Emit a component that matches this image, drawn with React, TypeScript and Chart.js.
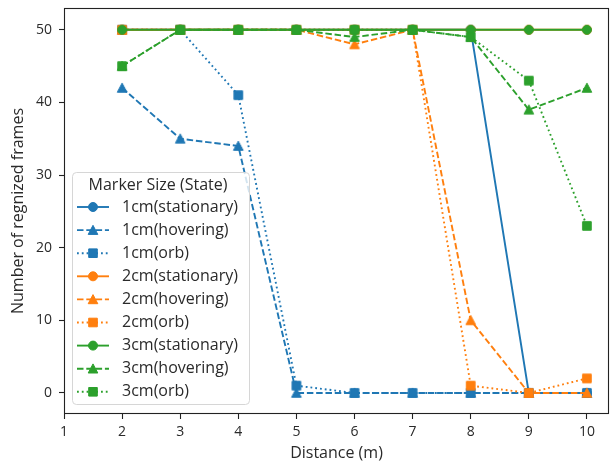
import React, { useEffect, useRef } from 'react';
import { Chart, registerables } from 'chart.js';

Chart.register(...registerables);

const distances = [2, 3, 4, 5, 6, 7, 8, 9, 10];
const xTicks = [1, 2, 3, 4, 5, 6, 7, 8, 9, 10];
const yTicks = [0, 10, 20, 30, 40, 50];

const s1cmStationary = [50, 50, 50, 50, 50, 50, 50, 0, 0];
const s1cmHovering = [42, 35, 34, 0, 0, 0, 0, 0, 0];
const s1cmOrb = [50, 50, 41, 1, 0, 0, 0, 0, 0];
const s2cmStationary = [50, 50, 50, 50, 50, 50, 50, 50, 50];
const s2cmHovering = [50, 50, 50, 50, 48, 50, 10, 0, 0];
const s2cmOrb = [50, 50, 50, 50, 50, 50, 1, 0, 2];
const s3cmStationary = [50, 50, 50, 50, 50, 50, 50, 50, 50];
const s3cmHovering = [45, 50, 50, 50, 49, 50, 49, 39, 42];
const s3cmOrb = [45, 50, 50, 50, 50, 50, 49, 43, 23];

const seriesLabels = [
  '1cm(stationary)', '1cm(hovering)', '1cm(orb)',
  '2cm(stationary)', '2cm(hovering)', '2cm(orb)',
  '3cm(stationary)', '3cm(hovering)', '3cm(orb)',
];
const seriesValues = [
  s1cmStationary, s1cmHovering, s1cmOrb,
  s2cmStationary, s2cmHovering, s2cmOrb,
  s3cmStationary, s3cmHovering, s3cmOrb,
];
const sizeColors = ['#1f77b4', '#ff7f0e', '#2ca02c'];
const stateShapes = ['circle', 'triangle', 'rect'];
const stateDashes: number[][] = [[], [6.5, 2.8], [1.8, 3]];

const legendTitle = 'Marker Size (State)';
const xTitle = 'Distance (m)';
const yTitle = 'Number of regnized frames';

const FONT = '"Open Sans", "Noto Sans", sans-serif';
const TEXT = '#2a2a2a';

function drawShape(ctx: CanvasRenderingContext2D, shape: string, x: number, y: number, color: string) {
  ctx.save();
  ctx.setLineDash([]);
  ctx.fillStyle = color;
  ctx.strokeStyle = color;
  ctx.lineWidth = 1;
  ctx.beginPath();
  if (shape === 'circle') {
    ctx.arc(x, y, 4.5, 0, Math.PI * 2);
  } else if (shape === 'rect') {
    ctx.rect(x - 4.3, y - 4.3, 8.6, 8.6);
  } else {
    ctx.moveTo(x, y - 4.8);
    ctx.lineTo(x + 4.8, y + 4.3);
    ctx.lineTo(x - 4.8, y + 4.3);
    ctx.closePath();
  }
  ctx.fill();
  ctx.stroke();
  ctx.restore();
}

function makeMarker(shape: string, color: string): HTMLCanvasElement {
  const c = document.createElement('canvas');
  c.width = 14;
  c.height = 14;
  const ctx = c.getContext('2d')!;
  drawShape(ctx, shape, 7, 7, color);
  return c;
}

const framePlugin = {
  id: 'frameAndLegend',
  afterDatasetsDraw(chart: any) {
    const ctx: CanvasRenderingContext2D = chart.ctx;
    const a = chart.chartArea;
    ctx.save();
    ctx.strokeStyle = '#222';
    ctx.lineWidth = 1.1;
    ctx.setLineDash([]);
    ctx.strokeRect(Math.round(a.left) + 0.5, Math.round(a.top) + 0.5, Math.round(a.right - a.left) - 1, Math.round(a.bottom - a.top) - 1);

    // legend box
    const bx = 72.5, by = 172.5, bw = 177, bh = 232, r = 4;
    ctx.beginPath();
    ctx.moveTo(bx + r, by);
    ctx.lineTo(bx + bw - r, by);
    ctx.quadraticCurveTo(bx + bw, by, bx + bw, by + r);
    ctx.lineTo(bx + bw, by + bh - r);
    ctx.quadraticCurveTo(bx + bw, by + bh, bx + bw - r, by + bh);
    ctx.lineTo(bx + r, by + bh);
    ctx.quadraticCurveTo(bx, by + bh, bx, by + bh - r);
    ctx.lineTo(bx, by + r);
    ctx.quadraticCurveTo(bx, by, bx + r, by);
    ctx.closePath();
    ctx.fillStyle = 'rgba(255,255,255,0.8)';
    ctx.fill();
    ctx.strokeStyle = '#d6d6d6';
    ctx.lineWidth = 1;
    ctx.stroke();

    ctx.fillStyle = TEXT;
    ctx.font = '16px ' + FONT;
    ctx.textBaseline = 'middle';
    ctx.textAlign = 'center';
    ctx.fillText(legendTitle, bx + bw / 2 - 3, 185);

    ctx.textAlign = 'left';
    seriesLabels.forEach((label, i) => {
      const y = 207 + i * 23.1;
      const color = sizeColors[Math.floor(i / 3)];
      const st = i % 3;
      ctx.save();
      ctx.strokeStyle = color;
      ctx.lineWidth = 1.9;
      ctx.setLineDash(stateDashes[st]);
      ctx.beginPath();
      ctx.moveTo(77, y);
      ctx.lineTo(109, y);
      ctx.stroke();
      ctx.restore();
      drawShape(ctx, stateShapes[st], 93, y, color);
      ctx.fillStyle = TEXT;
      ctx.fillText(label, 122, y);
    });
    ctx.restore();
  },
};

export default function App() {
  const ref = useRef<HTMLCanvasElement | null>(null);

  useEffect(() => {
    if (!ref.current) return;
    const datasets = seriesValues.map((vals, i) => {
      const color = sizeColors[Math.floor(i / 3)];
      const st = i % 3;
      return {
        label: seriesLabels[i],
        data: distances.map((d, j) => ({ x: d, y: vals[j] })),
        borderColor: color,
        backgroundColor: color,
        borderWidth: 1.9,
        borderDash: stateDashes[st],
        pointStyle: makeMarker(stateShapes[st], color),
        pointRadius: 5,
        pointHoverRadius: 5,
        tension: 0,
        fill: false,
        order: seriesValues.length - i,
      };
    });

    const chart = new Chart(ref.current, {
      type: 'line',
      data: { datasets } as any,
      plugins: [framePlugin],
      options: {
        animation: false,
        responsive: false,
        maintainAspectRatio: false,
        devicePixelRatio: 1,
        layout: { autoPadding: false, padding: { left: 0, right: 3, top: 8, bottom: 0 } },
        plugins: {
          legend: { display: false },
          tooltip: { enabled: false },
          title: { display: false },
        },
        scales: {
          x: {
            type: 'linear',
            min: 1,
            max: 10.38,
            afterBuildTicks: (s: any) => { s.ticks = xTicks.map((v) => ({ value: v })); },
            afterFit: (s: any) => { s.height = 49; s.paddingLeft = 0; s.paddingRight = 0; },
            grid: { drawOnChartArea: false, drawTicks: true, tickLength: 5, tickColor: '#222', tickWidth: 1.1 },
            border: { display: false },
            ticks: { color: TEXT, font: { family: FONT, size: 14 }, padding: 5, maxRotation: 0, autoSkip: false },
            title: { display: true, text: xTitle, color: TEXT, font: { family: FONT, size: 16 }, padding: { top: 0, bottom: 0 } },
          },
          y: {
            type: 'linear',
            min: -2.9,
            max: 53,
            afterBuildTicks: (s: any) => { s.ticks = yTicks.map((v) => ({ value: v })); },
            afterFit: (s: any) => { s.width = 64; s.paddingTop = 0; s.paddingBottom = 0; },
            grid: { drawOnChartArea: false, drawTicks: true, tickLength: 5, tickColor: '#222', tickWidth: 1.1 },
            border: { display: false },
            ticks: { color: TEXT, font: { family: FONT, size: 14 }, padding: 7, autoSkip: false },
            title: { display: true, text: yTitle, color: TEXT, font: { family: FONT, size: 16 }, padding: { top: 8.4, bottom: 0 } },
          },
        },
      } as any,
    });
    return () => chart.destroy();
  }, []);

  return (
    <div style={{ position: 'absolute', left: 0, top: 0, width: 612, height: 463, background: '#fff' }}>
      <canvas ref={ref} width={612} height={463} style={{ width: 612, height: 463, display: 'block' }} />
    </div>
  );
}
